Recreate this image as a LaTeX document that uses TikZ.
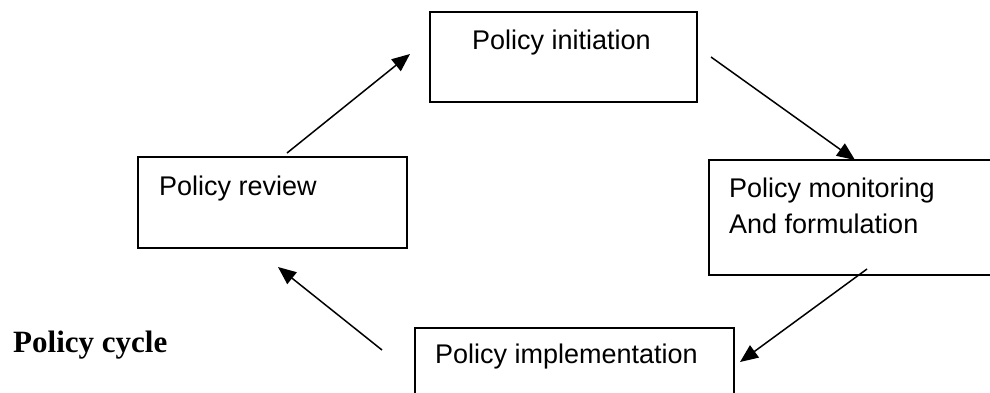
\documentclass[tikz,border=0pt]{standalone}
\usepackage{fontspec}
\setmainfont{Liberation Sans}
\newfontfamily\titlefont{Liberation Serif}
\usetikzlibrary{arrows.meta}
\begin{document}
\begin{tikzpicture}[x=1pt,y=-1pt,
  boxstyle/.style={draw,line width=1.7pt,inner sep=0pt,anchor=north west},
  lbl/.style={anchor=base west,inner sep=0pt,font=\fontsize{27}{36}\selectfont},
  flow/.style={line width=1.5pt,-{Triangle[length=18pt,width=15pt]}}]
\useasboundingbox (0,0) rectangle (990,392);
% boxes
\node[boxstyle,minimum width=267pt,minimum height=90pt] (init) at (429,11) {};
\node[boxstyle,minimum width=269pt,minimum height=91pt] (review) at (137,156) {};
\node[boxstyle,minimum width=300pt,minimum height=115pt] (monitor) at (708,159) {};
\node[boxstyle,minimum width=319pt,minimum height=80pt] (impl) at (414,327) {};
% texts
\node[lbl] (tinit) at (472,49) {Policy initiation};
\node[lbl] (treview) at (159,195) {Policy review};
\node[lbl] (tmon1) at (729,197) {Policy monitoring};
\node[lbl] (tmon2) at (729,233) {And formulation};
\node[lbl] (timpl) at (435,363) {Policy implementation};
\node[anchor=base west,inner sep=0pt,font=\titlefont\bfseries\fontsize{31}{36}\selectfont] (title) at (13,352) {Policy cycle};
% arrow ends
\coordinate (a1s) at (287,153); \coordinate (a1e) at (410,54);
\coordinate (a2s) at (711,57);  \coordinate (a2e) at (855,160);
\coordinate (a3s) at (867,269); \coordinate (a3e) at (740,362);
\coordinate (a4s) at (382,350); \coordinate (a4e) at (278,267);
\draw[flow] (a1s) -- (a1e);
\draw[flow] (a2s) -- (a2e);
\draw[flow] (a3s) -- (a3e);
\draw[flow] (a4s) -- (a4e);
\end{tikzpicture}
\end{document}
